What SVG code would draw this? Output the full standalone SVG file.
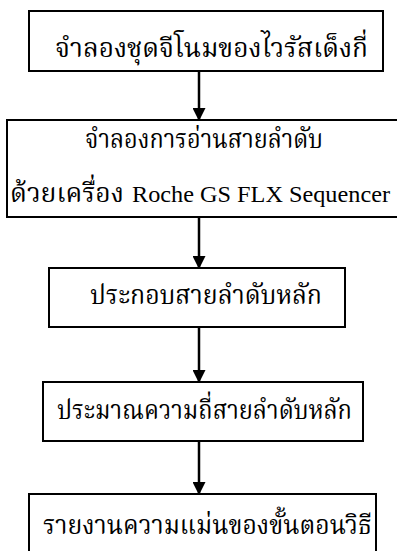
<svg xmlns="http://www.w3.org/2000/svg" width="397" height="551" viewBox="0 0 397 551">
<defs>
<marker id="ah" markerWidth="12" markerHeight="13" refX="12" refY="6.5" orient="auto" markerUnits="userSpaceOnUse">
<path d="M0,0 L13,6.5 L0,13 Z" fill="#000"/>
</marker>
<style>
.box{fill:#fff;stroke:#000;stroke-width:2}
.t{font-family:"Liberation Serif","Noto Serif Thai","Noto Sans Thai",serif;font-size:26px;fill:#000}
.l{font-family:'Liberation Serif';font-size:23.5px;font-weight:400;fill:#000}
.c{stroke:#000;stroke-width:2.5;fill:none;marker-end:url(#ah)}
</style>
</defs>
<rect width="397" height="551" fill="#fff"/>
<g id="n1"><rect class="box" x="29" y="11" width="354" height="60"/><text class="t" x="55" y="57" textLength="313" lengthAdjust="spacingAndGlyphs">จำลองชุดจีโนมของไวรัสเด็งกี่</text></g>
<g id="n2"><rect class="box" x="7" y="120" width="391" height="97"/><text class="t" x="85" y="148" textLength="238" lengthAdjust="spacingAndGlyphs">จำลองการอ่านสายลำดับ</text><text class="t" x="10" y="202" textLength="114" lengthAdjust="spacingAndGlyphs">ด้วยเครื่อง</text><text class="l" x="132" y="202" textLength="258" lengthAdjust="spacingAndGlyphs">Roche GS FLX Sequencer</text></g>
<g id="n3"><rect class="box" x="49" y="268" width="296" height="59"/><text class="t" x="90" y="304" textLength="232" lengthAdjust="spacingAndGlyphs">ประกอบสายลำดับหลัก</text></g>
<g id="n4"><rect class="box" x="43" y="382" width="320" height="59"/><text class="t" x="57" y="419" textLength="295" lengthAdjust="spacingAndGlyphs">ประมาณความถี่สายลำดับหลัก</text></g>
<g id="n5"><rect class="box" x="29" y="494" width="347" height="70"/><text class="t" x="43" y="534" textLength="329" lengthAdjust="spacingAndGlyphs">รายงานความแม่นของขั้นตอนวิธี</text></g>
<g id="connectors">
<line class="c" x1="199" y1="71" x2="199" y2="120"/>
<line class="c" x1="199" y1="217" x2="199" y2="268"/>
<line class="c" x1="199" y1="327" x2="199" y2="382"/>
<line class="c" x1="199" y1="441" x2="199" y2="494"/>
</g>
</svg>
